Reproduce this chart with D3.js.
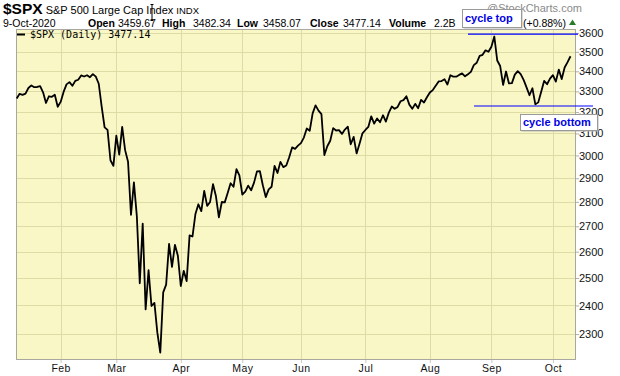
<!DOCTYPE html>
<html>
<head>
<meta charset="utf-8">
<script src="https://cdn.jsdelivr.net/npm/d3@7/dist/d3.min.js"></script>
<style>
  body { margin: 0; background: #fff; }
  svg { display: block; font-family: "Liberation Sans", Arial, sans-serif; }
</style>
</head>
<body>
<svg id="chart" width="620" height="376"></svg>
<script>
// trading days, Jan 10 2020 .. Oct 9 2020 (MM-DD)
const dates = [
  "01-10","01-13","01-14","01-15","01-16","01-17","01-21","01-22","01-23","01-24","01-27","01-28","01-29","01-30","01-31",
  "02-03","02-04","02-05","02-06","02-07","02-10","02-11","02-12","02-13","02-14","02-18","02-19","02-20","02-21","02-24","02-25","02-26","02-27","02-28",
  "03-02","03-03","03-04","03-05","03-06","03-09","03-10","03-11","03-12","03-13","03-16","03-17","03-18","03-19","03-20","03-23","03-24","03-25","03-26","03-27","03-30","03-31",
  "04-01","04-02","04-03","04-06","04-07","04-08","04-09","04-13","04-14","04-15","04-16","04-17","04-20","04-21","04-22","04-23","04-24","04-27","04-28","04-29","04-30",
  "05-01","05-04","05-05","05-06","05-07","05-08","05-11","05-12","05-13","05-14","05-15","05-18","05-19","05-20","05-21","05-22","05-26","05-27","05-28","05-29",
  "06-01","06-02","06-03","06-04","06-05","06-08","06-09","06-10","06-11","06-12","06-15","06-16","06-17","06-18","06-19","06-22","06-23","06-24","06-25","06-26","06-29","06-30",
  "07-01","07-02","07-06","07-07","07-08","07-09","07-10","07-13","07-14","07-15","07-16","07-17","07-20","07-21","07-22","07-23","07-24","07-27","07-28","07-29","07-30","07-31",
  "08-03","08-04","08-05","08-06","08-07","08-10","08-11","08-12","08-13","08-14","08-17","08-18","08-19","08-20","08-21","08-24","08-25","08-26","08-27","08-28","08-31",
  "09-01","09-02","09-03","09-04","09-08","09-09","09-10","09-11","09-14","09-15","09-16","09-17","09-18","09-21","09-22","09-23","09-24","09-25","09-28","09-29","09-30",
  "10-01","10-02","10-05","10-06","10-07","10-08","10-09"
];

const closes = [
  3265.35,3288.13,3283.15,3289.29,3316.81,3329.62,3320.79,3321.75,3325.54,3295.47,3243.63,3276.24,3273.40,3283.66,3225.52,
  3248.92,3297.59,3334.69,3345.78,3327.71,3352.09,3357.75,3379.45,3373.94,3380.16,3370.29,3386.15,3373.23,3337.75,3225.89,3128.21,3116.39,2978.76,2954.22,
  3090.23,3003.37,3130.12,3023.94,2972.37,2746.56,2882.23,2741.38,2480.64,2711.02,2386.13,2529.19,2398.10,2409.39,2304.92,2237.40,2447.33,2475.56,2630.07,2541.47,2626.65,2584.59,
  2470.50,2526.90,2488.65,2663.68,2659.41,2749.98,2789.82,2761.63,2846.06,2783.36,2799.55,2874.56,2823.16,2736.56,2799.31,2797.80,2836.74,2878.48,2863.39,2939.51,2912.43,
  2830.71,2842.74,2868.44,2848.42,2881.19,2929.80,2930.32,2870.12,2820.00,2852.50,2863.70,2953.91,2922.94,2971.61,2948.51,2955.45,2991.77,3036.13,3029.73,3044.31,
  3055.73,3080.82,3122.87,3112.35,3193.93,3232.39,3207.18,3190.14,3002.10,3041.31,3066.59,3124.74,3113.49,3115.34,3097.74,3117.86,3131.29,3050.33,3083.76,3009.05,3053.24,3100.29,
  3115.86,3130.01,3179.72,3145.32,3169.94,3152.05,3185.04,3155.22,3197.52,3226.56,3215.57,3224.73,3251.84,3257.30,3276.02,3235.66,3215.63,3239.41,3218.44,3258.44,3246.22,3271.12,
  3294.61,3306.51,3327.77,3349.16,3351.28,3360.47,3333.69,3380.35,3373.43,3372.85,3381.99,3389.78,3374.85,3385.51,3397.16,3431.28,3443.62,3478.73,3484.55,3508.01,3500.31,
  3526.65,3580.84,3455.06,3426.96,3331.84,3398.96,3339.19,3340.97,3383.54,3401.20,3385.49,3357.01,3319.47,3281.06,3315.57,3236.92,3246.59,3298.46,3351.60,3335.47,3363.00,
  3380.80,3348.42,3408.60,3360.97,3419.44,3446.83,3477.14
];

const monthTickDates = ["02-03","03-02","04-01","05-01","06-01","07-01","08-03","09-01","10-01"];
const monthLabels = ["Feb","Mar","Apr","May","Jun","Jul","Aug","Sep","Oct"];
const priceTicks = [2300,2400,2500,2600,2700,2800,2900,3000,3100,3200,3300,3400,3500,3600];

// user drawn cycle levels
const cycleTopLevel = 3594;
const cycleBottomLevel = 3229;

const svg = d3.select('#chart');

const plot = {left: 16, right: 576, top: 29, bottom: 360};

const x = d3.scalePoint()
  .domain(dates)
  .range([16.7, 570.5]);

const y = d3.scaleLog()
  .domain([2213, 3621])
  .range([plot.bottom, plot.top]);

// plot background
svg.append('rect')
  .attr('x', plot.left).attr('y', plot.top)
  .attr('width', plot.right - plot.left).attr('height', plot.bottom - plot.top)
  .attr('fill', '#f9f7c6');

// grid
const grid = svg.append('g').attr('stroke', '#dddba6').attr('stroke-width', 1);
grid.selectAll('.hg').data(priceTicks).enter().append('line')
  .attr('x1', plot.left).attr('x2', plot.right)
  .attr('y1', d => Math.round(y(d)) + 0.5).attr('y2', d => Math.round(y(d)) + 0.5);
grid.selectAll('.vg').data(monthTickDates).enter().append('line')
  .attr('y1', plot.top).attr('y2', plot.bottom)
  .attr('x1', d => Math.round(x(d)) + 0.5).attr('x2', d => Math.round(x(d)) + 0.5);

// border
svg.append('rect')
  .attr('x', plot.left + 0.5).attr('y', plot.top + 0.5)
  .attr('width', plot.right - plot.left - 1).attr('height', plot.bottom - plot.top - 1)
  .attr('fill', 'none').attr('stroke', '#a8a8a0');

// right axis
const yAxis = svg.append('g')
  .attr('transform', 'translate(' + plot.right + ',0)')
  .call(d3.axisRight(y).tickValues(priceTicks).tickFormat(d3.format('d')).tickSize(3).tickPadding(0));
yAxis.select('.domain').remove();
yAxis.selectAll('line').attr('stroke', '#b0b0a8');
yAxis.selectAll('text').attr('font-size', 11).attr('fill', '#111').attr('font-family', '"Liberation Sans", Arial, sans-serif');

// bottom axis
const xAxis = svg.append('g')
  .attr('transform', 'translate(0,' + plot.bottom + ')')
  .call(d3.axisBottom(x).tickValues(monthTickDates).tickFormat((d, i) => monthLabels[i]).tickSize(3).tickPadding(2));
xAxis.select('.domain').remove();
xAxis.selectAll('line').attr('stroke', '#c8c8c0');
xAxis.selectAll('text').attr('font-size', 10.5).attr('fill', '#111').attr('letter-spacing', 0.4)
  .attr('font-family', '"Liberation Sans", Arial, sans-serif');

// price line
const line = d3.line()
  .x((d, i) => x(dates[i]))
  .y(d => y(d));

svg.append('path')
  .datum(closes)
  .attr('fill', 'none')
  .attr('stroke', '#000')
  .attr('stroke-width', 1.8)
  .attr('stroke-linejoin', 'round')
  .attr('d', line);

// legend
svg.append('line').attr('x1', 17).attr('x2', 25).attr('y1', 34.5).attr('y2', 34.5)
  .attr('stroke', '#000').attr('stroke-width', 2);
svg.append('text').attr('x', 30).attr('y', 38)
  .attr('font-family', '"DejaVu Sans Mono", monospace').attr('font-size', 10)
  .text('$SPX (Daily) 3477.14');

// header
const h1 = svg.append('text').attr('x', 3).attr('y', 14).attr('fill', '#000');
h1.append('tspan').attr('font-weight', 'bold').attr('font-size', 15.5).text('$SPX');
h1.append('tspan').attr('font-size', 11).attr('dx', 3).text('S&P 500 Large Cap Index');
h1.append('tspan').attr('font-size', 9.5).attr('dx', 3).text('INDX');

// cursor artifact
svg.append('path').attr('d', 'M150.5,4.5h3M152,4.5v16M150.5,20.5h3')
  .attr('stroke', '#000').attr('stroke-width', 1).attr('fill', 'none');

const row2 = [
  {x: 3, t: '9-Oct-2020', b: false},
  {x: 88, t: 'Open', b: true}, {x: 118, t: '3459.67', b: false},
  {x: 162, t: 'High', b: true}, {x: 193, t: '3482.34', b: false},
  {x: 237, t: 'Low', b: true}, {x: 263, t: '3458.07', b: false},
  {x: 310, t: 'Close', b: true}, {x: 343, t: '3477.14', b: false},
  {x: 389, t: 'Volume', b: true}, {x: 434, t: '2.2B', b: false},
  {x: 523, t: '(+0.88%)', b: false}
];
svg.selectAll('.r2').data(row2).enter().append('text')
  .attr('x', d => d.x).attr('y', 26.5)
  .attr('font-size', 10.5)
  .attr('font-weight', d => d.b ? 'bold' : 'normal')
  .text(d => d.t);

svg.append('path').attr('d', 'M569,25L572.5,19.5L576,25Z').attr('fill', '#2a7a2a');

svg.append('text').attr('x', 487).attr('y', 12).attr('font-size', 11).attr('fill', '#8a8a8a')
  .text('@StockCharts.com');

// cycle annotations
svg.append('line').attr('x1', 468).attr('x2', 578)
  .attr('y1', y(cycleTopLevel)).attr('y2', y(cycleTopLevel))
  .attr('stroke', '#0000ff').attr('stroke-width', 1.2);
svg.append('line').attr('x1', 474).attr('x2', 593)
  .attr('y1', y(cycleBottomLevel)).attr('y2', y(cycleBottomLevel))
  .attr('stroke', '#0000ff').attr('stroke-width', 1.2);

function noteBox(x0, y0, w, h, label) {
  svg.append('rect').attr('x', x0 + 1.5).attr('y', y0 + 1.5).attr('width', w).attr('height', h)
    .attr('fill', '#b8b8b8');
  svg.append('rect').attr('x', x0 + 0.5).attr('y', y0 + 0.5).attr('width', w).attr('height', h)
    .attr('fill', '#fff').attr('stroke', '#9a9a9a');
  svg.append('text').attr('x', x0 + 3).attr('y', y0 + h / 2 + 4)
    .attr('font-size', 11).attr('font-weight', 'bold').attr('fill', '#0000e6')
    .text(label);
}
noteBox(462, 9, 59, 18, 'cycle top');
noteBox(520, 114, 77, 16, 'cycle bottom');
</script>
</body>
</html>
